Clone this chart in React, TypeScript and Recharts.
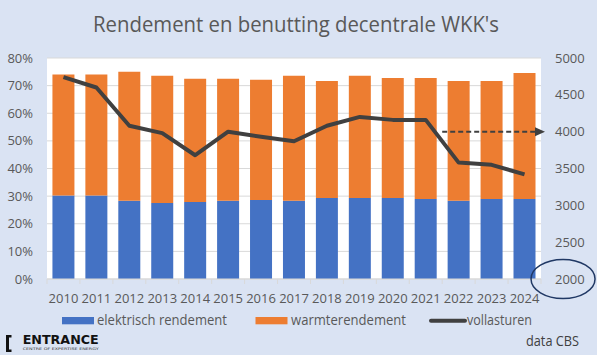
import React from 'react';
import {
  ComposedChart,
  Bar,
  Line,
  XAxis,
  YAxis,
  CartesianGrid,
  Legend,
  ReferenceLine,
  ReferenceDot,
} from 'recharts';

// ---- data ----
const years = ['2010', '2011', '2012', '2013', '2014', '2015', '2016', '2017', '2018', '2019', '2020', '2021', '2022', '2023', '2024'];
const elektrischRendement = [30.2, 30.2, 28.3, 27.5, 27.9, 28.3, 28.6, 28.3, 29.3, 29.3, 29.3, 29.0, 28.3, 29.0, 29.0];
const warmteRendement = [43.8, 43.8, 46.7, 46.1, 44.6, 44.2, 43.5, 45.3, 42.4, 44.3, 43.5, 43.8, 43.4, 42.7, 45.6];
const vollasturen = [4740, 4600, 4080, 3980, 3680, 4000, 3930, 3870, 4080, 4200, 4160, 4160, 3580, 3550, 3420];
const leftTicks = [0, 10, 20, 30, 40, 50, 60, 70, 80];
const rightTicks = [2000, 2500, 3000, 3500, 4000, 4500, 5000];
const arrowLevel = 4000;
const circledTick = 2000;

const data = years.map((year, i) => ({
  year,
  elektrisch: elektrischRendement[i],
  warmte: warmteRendement[i],
  vollasturen: vollasturen[i],
}));

// ---- layout / style ----
const W = 597;
const H = 355;
const BG = '#dae3f3';
const TEXT = '#595959';
const BLUE = '#4472c4';
const ORANGE = '#ed7d31';
const LINE = '#404040';
const GRID = '#d9d9d9';
const FONT = '"Open Sans", sans-serif';
const PLOT_LEFT = 47;
const PLOT_RIGHT = 541;
const BAND = (PLOT_RIGHT - PLOT_LEFT) / years.length;

const XTick = (props: any) => {
  const { x, y, index } = props;
  const bx = x - BAND / 2;
  return (
    <g>
      <line x1={bx} y1={y} x2={bx} y2={y + 5} stroke={GRID} />
      {index === years.length - 1 && (
        <line x1={x + BAND / 2} y1={y} x2={x + BAND / 2} y2={y + 5} stroke={GRID} />
      )}
      <text x={x} y={y + 24} textAnchor="middle" fill={TEXT} fontSize={13} fontFamily={FONT}>
        {props.payload.value}
      </text>
    </g>
  );
};

const LegendContent = () => (
  <svg width={W} height={30} style={{ display: 'block' }}>
    <rect x={62} y={12} width={32} height={7.3} fill={BLUE} />
    <text x={97} y={20} fill={TEXT} fontSize={14} fontFamily={FONT} textLength={130} lengthAdjust="spacingAndGlyphs">
      elektrisch rendement
    </text>
    <rect x={255.5} y={12} width={32} height={7.3} fill={ORANGE} />
    <text x={291} y={20} fill={TEXT} fontSize={14} fontFamily={FONT} textLength={115} lengthAdjust="spacingAndGlyphs">
      warmterendement
    </text>
    <line x1={431} y1={15.7} x2={465} y2={15.7} stroke={LINE} strokeWidth={4} strokeLinecap="round" />
    <text x={467} y={20} fill={TEXT} fontSize={14} fontFamily={FONT} textLength={65} lengthAdjust="spacingAndGlyphs">
      vollasturen
    </text>
  </svg>
);

const ArrowShape = (p: any) => {
  const { y1 } = p;
  const left = Math.min(p.x1, p.x2);
  const right = Math.max(p.x1, p.x2);
  const xs = left + ((right - left) * 12) / years.length;
  const tip = right + 4;
  return (
    <g>
      <line x1={xs} y1={y1} x2={tip - 9} y2={y1} stroke={LINE} strokeWidth={2} strokeDasharray="5 3" />
      <polygon points={`${tip},${y1} ${tip - 10},${y1 - 4.5} ${tip - 10},${y1 + 4.5}`} fill={LINE} />
    </g>
  );
};

const EllipseShape = (p: any) => (
  <ellipse cx={p.cx + 38.5} cy={p.cy} rx={32} ry={19.5} fill="none" stroke="#203864" strokeWidth={1.5} />
);

export default function App() {
  return (
    <div style={{ position: 'absolute', left: 0, top: 0, width: W, height: H, background: BG, overflow: 'hidden' }}>
      <ComposedChart
        width={W}
        height={H}
        data={data}
        margin={{ top: 58, right: 0, left: 0, bottom: 46 }}
        barCategoryGap="16.5%"
      >
        <CartesianGrid yAxisId="left" vertical={false} stroke={GRID} fill="#ffffff" />
        <XAxis
          dataKey="year"
          height={30}
          axisLine={{ stroke: GRID }}
          tickLine={false}
          tickSize={0}
          tickMargin={0}
          interval={0}
          tick={<XTick />}
        />
        <YAxis
          yAxisId="left"
          width={47}
          domain={[0, 80]}
          ticks={leftTicks}
          tickFormatter={(v: number) => `${v}%`}
          axisLine={false}
          tickLine={false}
          tickSize={0}
          tickMargin={14}
          tick={{ fill: TEXT, fontSize: 13, fontFamily: FONT }}
        />
        <YAxis
          yAxisId="right"
          orientation="right"
          width={56}
          domain={[2000, 5000]}
          ticks={rightTicks}
          axisLine={false}
          tickLine={false}
          tickSize={0}
          tickMargin={14}
          tick={{ fill: TEXT, fontSize: 13, fontFamily: FONT }}
        />
        <Bar yAxisId="left" dataKey="elektrisch" name="elektrisch rendement" stackId="a" fill={BLUE} isAnimationActive={false} />
        <Bar yAxisId="left" dataKey="warmte" name="warmterendement" stackId="a" fill={ORANGE} isAnimationActive={false} />
        <Line
          yAxisId="right"
          dataKey="vollasturen"
          name="vollasturen"
          type="linear"
          stroke={LINE}
          strokeWidth={4}
          strokeLinejoin="round"
          dot={false}
          activeDot={false}
          isAnimationActive={false}
        />
        <ReferenceLine yAxisId="right" y={arrowLevel} shape={<ArrowShape />} ifOverflow="visible" />
        <ReferenceDot yAxisId="right" x="2024" y={circledTick} ifOverflow="visible" shape={<EllipseShape />} />
        <Legend
          layout="vertical"
          align="center"
          verticalAlign="middle"
          content={<LegendContent />}
          wrapperStyle={{ position: 'absolute', left: 0, top: 305, width: W, height: 30 }}
        />
      </ComposedChart>
      <svg width={W} height={H} style={{ position: 'absolute', left: 0, top: 0, pointerEvents: 'none' }}>
        <text x={296} y={32} textAnchor="middle" fill={TEXT} fontSize={22} fontFamily={FONT} textLength={406} lengthAdjust="spacingAndGlyphs">
          Rendement en benutting decentrale WKK's
        </text>
        <path d="M6 335 H11.5 V337.5 H9 V349.5 H11.5 V352 H6 Z" fill="#111" />
        <text x={22.7} y={344.3} fill="#111" fontSize={13} fontWeight="bold" fontFamily='"DejaVu Sans", sans-serif' textLength={76} lengthAdjust="spacingAndGlyphs">
          ENTRANCE
        </text>
        <text x={22.7} y={350} fill="#333" fontSize={3.5} fontFamily='"DejaVu Sans", sans-serif' textLength={76} lengthAdjust="spacingAndGlyphs">
          CENTRE OF EXPERTISE ENERGY
        </text>
        <text x={526} y={346} fill="#404040" fontSize={14} fontFamily={FONT} textLength={53} lengthAdjust="spacingAndGlyphs">
          data CBS
        </text>
      </svg>
    </div>
  );
}
